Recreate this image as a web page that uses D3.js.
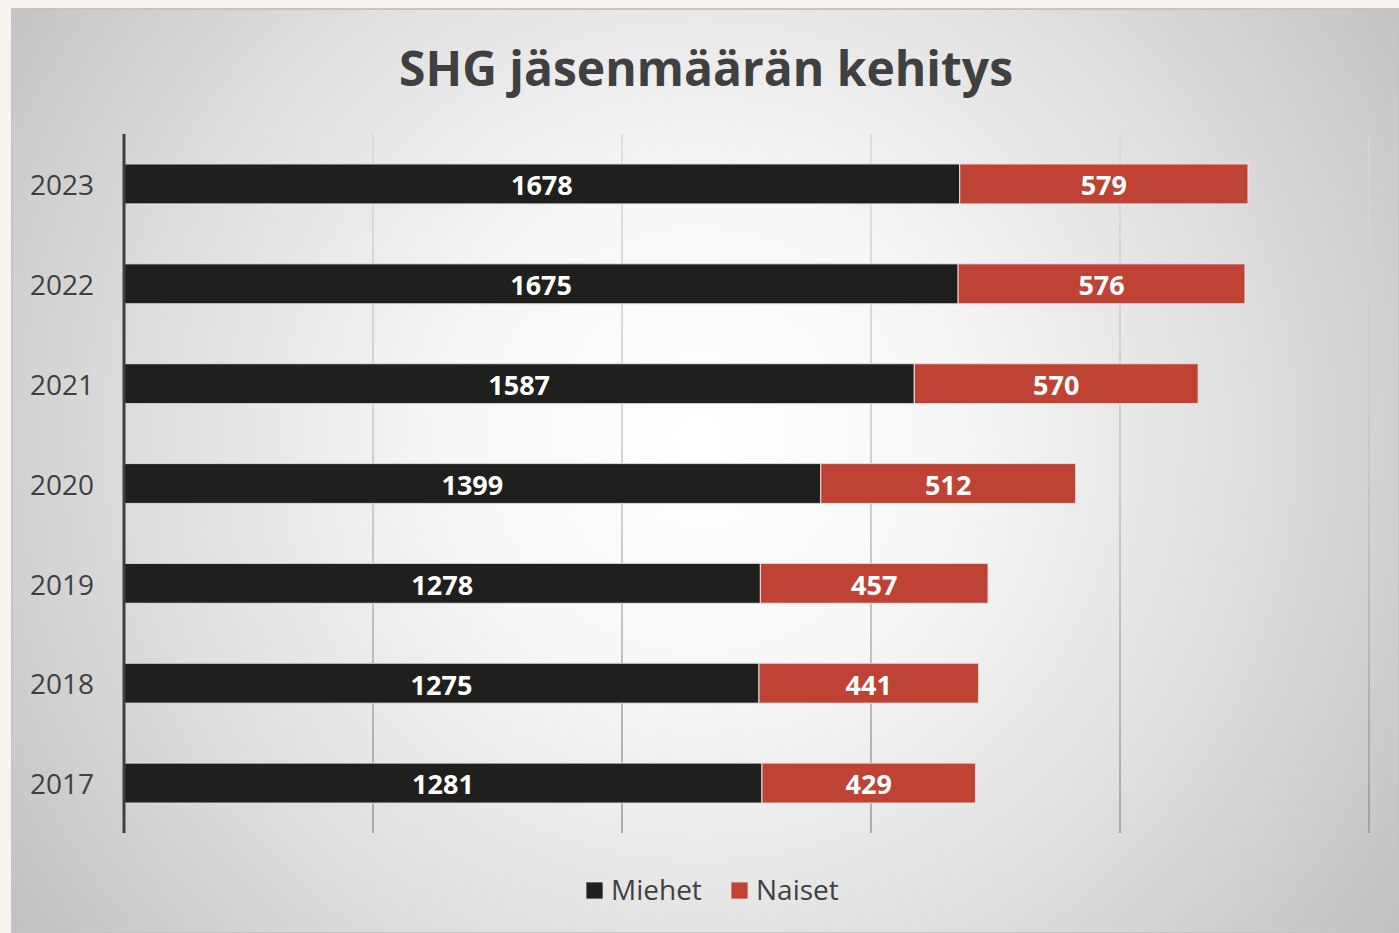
<!DOCTYPE html>
<html>
<head>
<meta charset="utf-8">
<title>SHG jäsenmäärän kehitys</title>
<script src="https://cdn.jsdelivr.net/npm/d3@7"></script>
<style>
  html, body { margin: 0; padding: 0; background: #f7f3ee; }
  svg { display: block; }
</style>
</head>
<body>
<script>
// data
var years = ["2023", "2022", "2021", "2020", "2019", "2018", "2017"];
var miehet = [1678, 1675, 1587, 1399, 1278, 1275, 1281];
var naiset = [579, 576, 570, 512, 457, 441, 429];
var seriesNames = ["Miehet", "Naiset"];
var xTicks = [0, 500, 1000, 1500, 2000, 2500];

var width = 1399, height = 933;
var margin = { top: 134, bottom: 100, left: 124, right: 30 };
var colors = { Miehet: "#1f1f1d", Naiset: "#be4335" };
var font = "'Open Sans', 'Noto Sans', sans-serif";

var svg = d3.select("body").append("svg").attr("width", width).attr("height", height);
var defs = svg.append("defs");

// panel background
var bg = defs.append("radialGradient").attr("id", "bg")
    .attr("gradientUnits", "userSpaceOnUse")
    .attr("cx", 700).attr("cy", 440).attr("r", 900);
bg.append("stop").attr("offset", "0").attr("stop-color", "#ffffff");
bg.append("stop").attr("offset", "0.28").attr("stop-color", "#f7f7f7");
bg.append("stop").attr("offset", "0.62").attr("stop-color", "#dedede");
bg.append("stop").attr("offset", "1").attr("stop-color", "#bcbcbc");

var gridGrad = defs.append("linearGradient").attr("id", "grid")
    .attr("gradientUnits", "userSpaceOnUse")
    .attr("x1", 0).attr("y1", 134).attr("x2", 0).attr("y2", 833);
gridGrad.append("stop").attr("offset", "0").attr("stop-color", "#d8d8d8");
gridGrad.append("stop").attr("offset", "0.5").attr("stop-color", "#c4c4c4");
gridGrad.append("stop").attr("offset", "1").attr("stop-color", "#959595");

svg.append("rect")
    .attr("x", 12).attr("y", 9).attr("width", width - 12).attr("height", height - 9)
    .attr("fill", "url(#bg)").attr("stroke", "#c4c4c4").attr("stroke-width", 2);

// scales
var x = d3.scaleLinear().domain([0, 2500]).range([margin.left, width - margin.right]);
var y = d3.scaleBand().domain(years).range([margin.top, height - margin.bottom]).paddingInner(0.6).paddingOuter(0.3);

// gridlines
svg.append("g")
    .selectAll("line")
    .data(xTicks.slice(1))
    .enter()
    .append("line")
    .attr("x1", function (d) { return x(d); })
    .attr("x2", function (d) { return x(d); })
    .attr("y1", margin.top)
    .attr("y2", height - margin.bottom)
    .attr("stroke", "url(#grid)")
    .attr("stroke-width", 1.5);

// title
svg.append("text")
    .attr("x", 706).attr("y", 86)
    .attr("text-anchor", "middle")
    .attr("font-family", font)
    .attr("font-weight", "bold")
    .attr("font-size", "48px")
    .attr("fill", "#404040")
    .text("SHG jäsenmäärän kehitys");

// stacked data
var rows = years.map(function (yr, i) { return { year: yr, Miehet: miehet[i], Naiset: naiset[i] }; });
var stack = d3.stack().keys(seriesNames)(rows);

var layers = svg.append("g")
    .selectAll("g")
    .data(stack)
    .enter()
    .append("g")
    .attr("fill", function (d) { return colors[d.key]; });

layers.selectAll("rect")
    .data(function (d) { return d; })
    .enter()
    .append("rect")
    .attr("x", function (d) { return x(d[0]); })
    .attr("y", function (d) { return y(d.data.year); })
    .attr("width", function (d) { return x(d[1]) - x(d[0]); })
    .attr("height", y.bandwidth())
    .attr("stroke", "#e6e6e6")
    .attr("stroke-opacity", 0.8)
    .attr("stroke-width", 1.2);

layers.selectAll("text")
    .data(function (d) { return d; })
    .enter()
    .append("text")
    .attr("x", function (d) { return (x(d[0]) + x(d[1])) / 2; })
    .attr("y", function (d) { return y(d.data.year) + y.bandwidth() / 2; })
    .attr("dy", "0.42em")
    .attr("text-anchor", "middle")
    .attr("font-family", font)
    .attr("font-weight", "bold")
    .attr("font-size", "27px")
    .attr("fill", "#ffffff")
    .text(function (d) { return d[1] - d[0]; });

// y axis
var yAxis = svg.append("g")
    .attr("transform", "translate(" + margin.left + ",0)")
    .call(d3.axisLeft(y).tickSize(0).tickPadding(30));
yAxis.select(".domain").attr("stroke", "#404040").attr("stroke-width", 3)
    .attr("d", "M0," + margin.top + "V" + (height - margin.bottom));
yAxis.selectAll("text")
    .attr("dy", "0.4em")
    .attr("font-family", font)
    .attr("font-size", "28px")
    .attr("fill", "#404040");

// legend
var legend = svg.append("g").attr("font-family", font).attr("font-size", "28px").attr("fill", "#404040");
var legendX = [586, 731];
seriesNames.forEach(function (name, i) {
    legend.append("rect")
        .attr("x", legendX[i]).attr("y", 882).attr("width", 17).attr("height", 17)
        .attr("fill", colors[name]).attr("stroke", "#e0e0e0").attr("stroke-width", 0.8);
    legend.append("text")
        .attr("x", legendX[i] + 25).attr("y", 900)
        .text(name);
});
</script>
</body>
</html>
